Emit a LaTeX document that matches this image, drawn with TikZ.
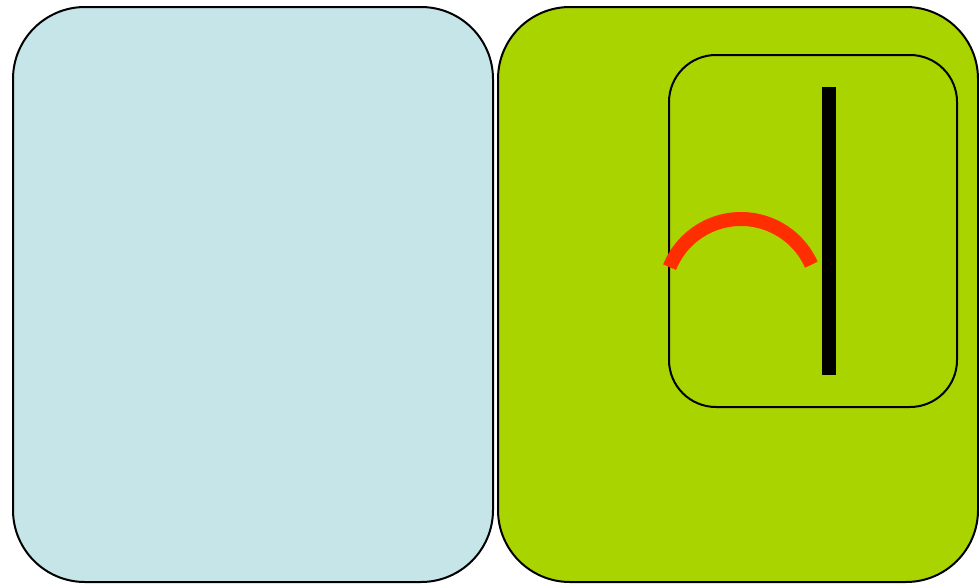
\documentclass[tikz,border=0pt]{standalone}
\definecolor{paleblue}{HTML}{C5E5E8}
\definecolor{limegreen}{HTML}{AAD400}
\definecolor{arcred}{HTML}{FF2E00}
\tikzset{
  panel/.style={draw=black, line width=2pt, rounded corners=72pt},
  innerpanel/.style={draw=black, line width=2pt, rounded corners=47pt},
}
\begin{document}
\begin{tikzpicture}[x=1pt,y=-1pt]
\useasboundingbox (0,0) rectangle (979,584);
\draw[panel, fill=paleblue] (13,7) rectangle (493,582);
\draw[panel, fill=limegreen] (498,7) rectangle (978,582);
\draw[innerpanel] (669,55) rectangle (957,407);
\fill[black] (822,87) rectangle (836,375);
\draw[arcred, line width=14pt] ([shift={(-158:77)}]741,296) arc[start angle=-158, end angle=-24, radius=77];
\end{tikzpicture}
\end{document}
